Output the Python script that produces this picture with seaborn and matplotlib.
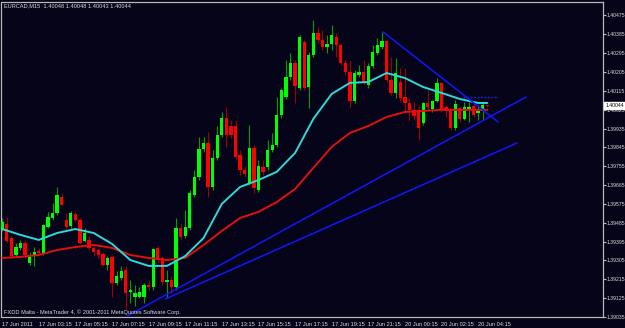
import numpy as np
import pandas as pd
import matplotlib
matplotlib.use("Agg")
import matplotlib.pyplot as plt
import seaborn as sns

# ---------------- data (EURCAD, M15) ----------------
opens = [1.39451, 1.39479, 1.39412, 1.39331, 1.39365, 1.39388, 1.39293, 1.39331, 1.39350, 1.39336,
         1.39465, 1.39508, 1.39532, 1.39608, 1.39498, 1.39470, 1.39527, 1.39498, 1.39398, 1.39403,
         1.39365, 1.39355, 1.39336, 1.39283, 1.39322, 1.39197, 1.39221, 1.39260, 1.39154, 1.39131,
         1.39131, 1.39131, 1.39188, 1.39178, 1.39365, 1.39317, 1.39202, 1.39212, 1.39178, 1.39460,
         1.39422, 1.39460, 1.39618, 1.39704, 1.39838, 1.39866, 1.39656, 1.39795, 1.39904, 1.39985,
         1.39947, 1.39947, 1.39809, 1.39737, 1.39675, 1.39842, 1.39643, 1.39751, 1.39751, 1.39833,
         1.39857, 1.40000, 1.40086, 1.40181, 1.40248, 1.40129, 1.40348, 1.40133, 1.40286, 1.40391,
         1.40358, 1.40325, 1.40339, 1.40372, 1.40334, 1.40248, 1.40205, 1.40067, 1.40191, 1.40205,
         1.40143, 1.40234, 1.40296, 1.40325, 1.40353, 1.40167, 1.40105, 1.40157, 1.40086, 1.40057,
         1.40024, 1.40024, 1.39962, 1.40057, 1.40028, 1.40067, 1.40153, 1.40038, 1.40024, 1.39938,
         1.40033, 1.39981, 1.40028, 1.40043, 1.40009, 1.40019, 1.40048]
highs = [1.39508, 1.39513, 1.39422, 1.39388, 1.39403, 1.39403, 1.39345, 1.39369, 1.39365, 1.39479,
         1.39537, 1.39580, 1.39656, 1.39627, 1.39532, 1.39541, 1.39537, 1.39508, 1.39460, 1.39422,
         1.39374, 1.39365, 1.39345, 1.39326, 1.39331, 1.39255, 1.39279, 1.39279, 1.39212, 1.39188,
         1.39178, 1.39197, 1.39212, 1.39365, 1.39374, 1.39326, 1.39260, 1.39231, 1.39508, 1.39479,
         1.39546, 1.39643, 1.39737, 1.39895, 1.39895, 1.39919, 1.39833, 1.39947, 1.40014, 1.40038,
         1.39976, 1.39976, 1.39833, 1.39756, 1.39952, 1.39857, 1.39785, 1.39785, 1.39880, 1.39914,
         1.40086, 1.40129, 1.40262, 1.40296, 1.40262, 1.40382, 1.40358, 1.40301, 1.40453, 1.40420,
         1.40406, 1.40382, 1.40430, 1.40391, 1.40344, 1.40262, 1.40262, 1.40215, 1.40239, 1.40262,
         1.40248, 1.40334, 1.40368, 1.40396, 1.40358, 1.40277, 1.40272, 1.40224, 1.40224, 1.40081,
         1.40062, 1.40048, 1.40062, 1.40119, 1.40071, 1.40176, 1.40157, 1.40048, 1.40033, 1.40071,
         1.40043, 1.40062, 1.40062, 1.40057, 1.40048, 1.40057, 1.40048]
lows = [1.39446, 1.39393, 1.39322, 1.39326, 1.39355, 1.39317, 1.39283, 1.39279, 1.39336, 1.39331,
        1.39460, 1.39498, 1.39522, 1.39565, 1.39451, 1.39460, 1.39489, 1.39384, 1.39393, 1.39355,
        1.39326, 1.39317, 1.39279, 1.39260, 1.39131, 1.39188, 1.39212, 1.39073, 1.39102, 1.39088,
        1.39126, 1.39102, 1.39164, 1.39164, 1.39293, 1.39188, 1.39126, 1.39150, 1.39164, 1.39403,
        1.39412, 1.39451, 1.39608, 1.39689, 1.39823, 1.39608, 1.39643, 1.39785, 1.39895, 1.39847,
        1.39890, 1.39785, 1.39713, 1.39704, 1.39665, 1.39627, 1.39632, 1.39713, 1.39737, 1.39823,
        1.39847, 1.39985, 1.40076, 1.40167, 1.40057, 1.40119, 1.40119, 1.40033, 1.40277, 1.40344,
        1.40310, 1.40296, 1.40310, 1.40277, 1.40239, 1.40191, 1.40033, 1.40057, 1.40181, 1.40143,
        1.40129, 1.40224, 1.40286, 1.40315, 1.40157, 1.40095, 1.40081, 1.40062, 1.40014, 1.39976,
        1.39976, 1.39880, 1.39952, 1.40024, 1.40014, 1.40062, 1.40014, 1.39990, 1.39928, 1.39928,
        1.39966, 1.39976, 1.39966, 1.39990, 1.39976, 1.39976, 1.40043]
closes = [1.39489, 1.39398, 1.39326, 1.39369, 1.39388, 1.39331, 1.39331, 1.39345, 1.39341, 1.39474,
          1.39513, 1.39532, 1.39618, 1.39570, 1.39465, 1.39532, 1.39498, 1.39388, 1.39436, 1.39365,
          1.39345, 1.39331, 1.39283, 1.39317, 1.39197, 1.39231, 1.39255, 1.39150, 1.39164, 1.39150,
          1.39154, 1.39188, 1.39178, 1.39360, 1.39307, 1.39202, 1.39212, 1.39178, 1.39460, 1.39417,
          1.39465, 1.39627, 1.39704, 1.39838, 1.39866, 1.39656, 1.39795, 1.39904, 1.39985, 1.39904,
          1.39904, 1.39799, 1.39737, 1.39718, 1.39842, 1.39651, 1.39756, 1.39728, 1.39833, 1.39857,
          1.40000, 1.40119, 1.40181, 1.40248, 1.40138, 1.40372, 1.40129, 1.40286, 1.40391, 1.40358,
          1.40325, 1.40339, 1.40382, 1.40334, 1.40248, 1.40205, 1.40067, 1.40200, 1.40205, 1.40153,
          1.40234, 1.40301, 1.40334, 1.40353, 1.40167, 1.40105, 1.40200, 1.40081, 1.40057, 1.40024,
          1.39995, 1.39938, 1.40057, 1.40038, 1.40067, 1.40153, 1.40024, 1.40019, 1.39938, 1.40052,
          1.39981, 1.40038, 1.40038, 1.40000, 1.40019, 1.40048, 1.40044]

ma_bars = [0, 4, 8, 12, 16, 20, 24, 28, 32, 36, 40, 44, 48, 52, 56, 60, 64, 68, 72, 76,
           80, 84, 88, 92, 96, 100, 104, 106]
ma_fast = [1.39455, 1.39427, 1.39403, 1.39436, 1.39455, 1.39436, 1.39384, 1.39307, 1.39279, 1.39279,
           1.39326, 1.39412, 1.39575, 1.39656, 1.39689, 1.39728, 1.39818, 1.39981, 1.40100, 1.40153,
           1.40157, 1.40200, 1.40176, 1.40133, 1.40105, 1.40076, 1.40057, 1.40057]
ma_slow = [1.39317, 1.39322, 1.39331, 1.39355, 1.39369, 1.39379, 1.39365, 1.39331, 1.39317, 1.39307,
           1.39317, 1.39379, 1.39446, 1.39508, 1.39537, 1.39584, 1.39646, 1.39747, 1.39847, 1.39914,
           1.39947, 1.39990, 1.40014, 1.40019, 1.40024, 1.40024, 1.40024, 1.40024]

# drawn objects: (bar, price) endpoints
trend_down = [(83.25, 1.40396), (108.4, 1.39966)]
trend_up_a = [(27.36, 1.39040), (114.5, 1.40086)]
trend_up_b = [(35.66, 1.39121), (112.5, 1.39866)]
level_line = [(100.7, 1.40086), (108.4, 1.40086)]

time_labels = ["17 Jun 2011", "17 Jun 03:15", "17 Jun 05:15", "17 Jun 07:15", "17 Jun 09:15",
               "17 Jun 11:15", "17 Jun 13:15", "17 Jun 15:15", "17 Jun 17:15", "17 Jun 19:15",
               "17 Jun 21:15", "20 Jun 00:15", "20 Jun 02:15", "20 Jun 04:15"]
price_ticks = [1.40475, 1.40385, 1.40295, 1.40205, 1.40115, 1.40025, 1.39935, 1.39845, 1.39755,
               1.39665, 1.39575, 1.39485, 1.39395, 1.39305, 1.39215, 1.39125, 1.39035]
header = "EURCAD,M15  1.40048 1.40048 1.40043 1.40044"
footer = "FXDD Malta - MetaTrader 4, \u00a9 2001-2011 MetaQuotes Software Corp."
last_price = "1.40044"

# ---------------- drawing ----------------
BG = "#050418"
FG = "#dcdcdc"
FS = 4.1
FSY = 3.7
sns.set_style("dark", {"axes.facecolor": BG, "figure.facecolor": BG})
plt.rcParams["font.family"] = ["Liberation Sans", "DejaVu Sans"]

W, H = 625, 328
fig = plt.figure(figsize=(W / 100, H / 100), dpi=100)
fig.patch.set_facecolor(BG)
ax = fig.add_axes([1.5 / W, 11 / H, 601.5 / W, 315 / H])
ax.set_facecolor(BG)

df = pd.DataFrame({"bar": np.arange(len(opens)), "open": opens, "high": highs,
                   "low": lows, "close": closes})
up = df["close"] >= df["open"]
wick_col = np.where(up, "#00a000", "#a00000")
body_col = np.where(up, "#00ff00", "#ff0000")
ax.vlines(df["bar"], df["low"], df["high"], colors=wick_col, lw=0.8, zorder=2)
body_h = np.maximum((df["close"] - df["open"]).abs(), 0.000025)
body_b = np.minimum(df["open"], df["close"])
ax.bar(df["bar"], body_h, bottom=body_b, width=0.72, color=body_col, lw=0, zorder=3)

ma_df = pd.DataFrame({"bar": ma_bars, "fast": ma_fast, "slow": ma_slow})
sns.lineplot(data=ma_df, x="bar", y="slow", ax=ax, color="#e01010", lw=1.4, zorder=4)
sns.lineplot(data=ma_df, x="bar", y="fast", ax=ax, color="#30d8d8", lw=1.4, zorder=4)

for seg in (trend_down, trend_up_a, trend_up_b):
    xs, ys = zip(*seg)
    ax.plot(xs, ys, color="#1414ff", lw=1.1, zorder=5)
xs, ys = zip(*level_line)
ax.plot(xs, ys, color="#2020c0", lw=1.0, ls=(0, (1.5, 1)), zorder=5)

ax.set_xlim(-0.15, 131.3)
ax.set_ylim(1.39035, 1.40539)
ax.set_xlabel("")
ax.set_ylabel("")
ax.grid(False)

ax.yaxis.tick_right()
ax.set_yticks(price_ticks)
ax.set_yticklabels([f"{p:.5f}" for p in price_ticks])
ax.set_xticks(np.arange(0, 8 * len(time_labels), 8))
ax.set_xticklabels(time_labels, ha="left")
ax.tick_params(axis="both", direction="out", length=2.2, width=0.8, color="#c0c0c0",
               labelcolor=FG, labelsize=FS, pad=1.2)
ax.tick_params(axis="y", labelsize=FSY, pad=0.9, length=2.0)
for sp in ax.spines.values():
    sp.set_visible(True)
    sp.set_color("#b8b8b8")
    sp.set_linewidth(0.9)

fig.text(3.5 / W, 1 - 6.0 / H, header, color=FG, fontsize=FS, va="center", ha="left")
fig.text(3.5 / W, 1 - 312.5 / H, footer, color=FG, fontsize=FS, va="center", ha="left")
ax.text(1.0 + 2.5 / 601.5, 1.40044, last_price, transform=ax.get_yaxis_transform(),
        fontsize=FSY, color="black", va="center", ha="left",
        bbox=dict(boxstyle="square,pad=0.2", fc="white", ec="white"), zorder=10, clip_on=False)

fig.savefig("out.png", dpi=100, facecolor=BG)
